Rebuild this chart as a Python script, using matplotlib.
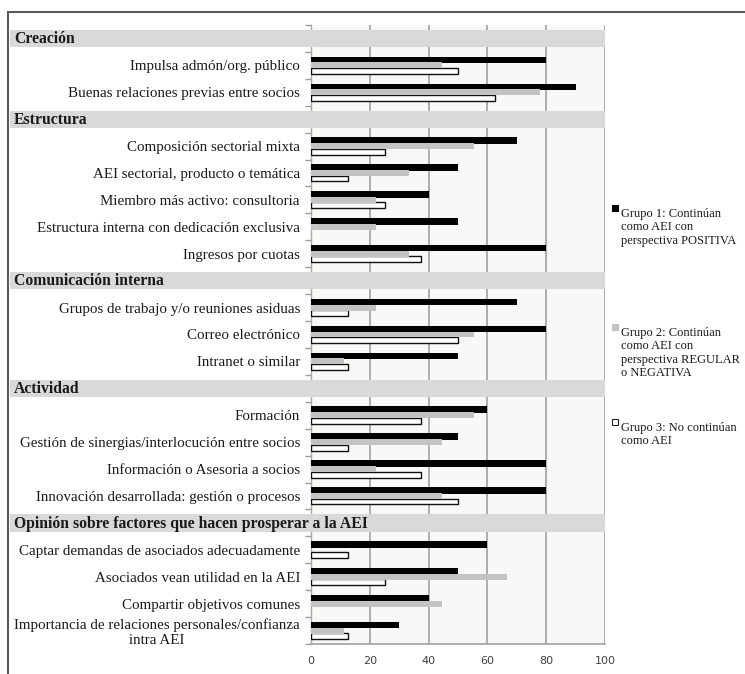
import matplotlib
matplotlib.use("Agg")
import matplotlib.pyplot as plt
from matplotlib.patches import Rectangle
from matplotlib.lines import Line2D
import matplotlib.transforms as mtransforms

# ---------------- data ----------------
sections = ["Creación", "Estructura", "Comunicación interna", "Actividad",
            "Opinión sobre factores que hacen prosperar a la AEI"]
section_items = [
    ["Impulsa admón/org. público", "Buenas relaciones previas entre socios"],
    ["Composición sectorial mixta", "AEI sectorial, producto o temática",
     "Miembro más activo: consultoria", "Estructura interna con dedicación exclusiva",
     "Ingresos por cuotas"],
    ["Grupos de trabajo y/o reuniones asiduas", "Correo electrónico", "Intranet o similar"],
    ["Formación", "Gestión de sinergias/interlocución entre socios",
     "Información o Asesoria a socios", "Innovación desarrollada: gestión o procesos"],
    ["Captar demandas de asociados adecuadamente", "Asociados vean utilidad en la AEI",
     "Compartir objetivos comunes", "Importancia de relaciones personales/confianza\nintra AEI"],
]
grupo1 = [80, 90, 70, 50, 40, 50, 80, 70, 80, 50, 60, 50, 80, 80, 60, 50, 40, 30]
grupo2 = [44.4, 77.8, 55.6, 33.3, 22.2, 22.2, 33.3, 22.2, 55.6, 11.1,
          55.6, 44.4, 22.2, 44.4, 0, 66.7, 44.4, 11.1]
grupo3 = [50, 62.5, 25, 12.5, 25, 0, 37.5, 12.5, 50, 12.5,
          37.5, 12.5, 37.5, 50, 12.5, 25, 0, 12.5]
legend_labels = ["Grupo 1: Continúan\ncomo AEI con\nperspectiva POSITIVA",
                 "Grupo 2: Continúan\ncomo AEI con\nperspectiva REGULAR\no NEGATIVA",
                 "Grupo 3: No continúan\ncomo AEI"]
xticks = [0, 20, 40, 60, 80, 100]

# ---------------- layout ----------------
W, H = 745, 674
fig = plt.figure(figsize=(W / 100, H / 100), dpi=100)
ax_left, ax_right, ax_top, ax_bottom = 311, 605, 25, 644
ax = fig.add_axes([ax_left / W, 1 - ax_bottom / H, (ax_right - ax_left) / W,
                   (ax_bottom - ax_top) / H])
ax.set_facecolor("#f8f8f7")

serif = ["Liberation Serif", "DejaVu Serif"]

# slot positions
header_pos = []
item_pos = []
item_labels = []
k = 0
for sec, items in zip(sections, section_items):
    header_pos.append(k)
    k += 1
    for it in items:
        item_pos.append(k)
        item_labels.append(it)
        k += 1
nslots = k

off = 0.205
bh = 0.22
y1 = [p - off for p in item_pos]
y2 = [p for p in item_pos]
y3 = [p + off for p in item_pos]
ax.barh(y1, grupo1, height=bh + 0.02, color="black", zorder=3, label=legend_labels[0])
w3 = ax.barh(y3, grupo3, height=bh, color="white", edgecolor="#111111", linewidth=1.0,
             zorder=3, label=legend_labels[2])
for rect, v in zip(w3.patches, grupo3):
    if v == 0:
        rect.set_linewidth(0)
ax.barh(y2, grupo2, height=bh, color="#c3c3c3", zorder=4, label=legend_labels[1])

ax.set_xlim(0, 100)
ax.set_ylim(nslots - 0.5, -0.5)
ax.set_xticks(xticks)
ax.set_xticklabels([str(t) for t in xticks], fontsize=8, color="#404040",
                   family="DejaVu Sans")
ax.tick_params(axis="x", length=0, pad=9)
ax.grid(axis="x", color="#a8a8a8", linewidth=1.3, zorder=1)
ax.set_axisbelow(True)

ax.set_yticks(item_pos)
ax.set_yticklabels(item_labels, fontsize=10.8, family=serif, color="#1a1a1a",
                   multialignment="center")
ax.tick_params(axis="y", which="major", length=0, pad=8)
ax.set_yticks([i - 0.5 for i in range(nslots + 1)], minor=True)
ax.tick_params(axis="y", which="minor", length=4, width=1, color="#9a9a9a",
               direction="out")

for s in ["top", "right"]:
    ax.spines[s].set_visible(False)
ax.spines["left"].set_color("#a8a8a8")
ax.spines["bottom"].set_color("#a8a8a8")
ax.spines["left"].set_linewidth(1.0)
ax.spines["bottom"].set_linewidth(1.3)

# section header bands
trans = mtransforms.blended_transform_factory(fig.transFigure, ax.transData)
for sec, p in zip(sections, header_pos):
    r = Rectangle((10 / W, p - 0.32), (ax_right - 10) / W, 0.64, transform=trans,
                  facecolor="#d9d9d9", edgecolor="none", clip_on=False, zorder=5)
    ax.add_patch(r)
    ax.text(14 / W, p + 0.03, sec, transform=trans, fontsize=11.3, fontweight="bold",
            family=serif, color="#1a1a1a", va="center", ha="left", zorder=6,
            clip_on=False)

# legend (manual)
leg_colors = [("black", "black"), ("#c3c3c3", "#c3c3c3"), ("white", "#222222")]
leg_y = [208, 327, 422]
for (fc, ec), lab, yy in zip(leg_colors, legend_labels, leg_y):
    fig.patches.append(Rectangle((612 / W, 1 - (yy + 3) / H), 6 / W, 6 / H,
                                 transform=fig.transFigure, facecolor=fc,
                                 edgecolor=ec, linewidth=0.8))
    fig.text(621 / W, 1 - yy / H, lab, fontsize=9, family=serif, color="#1a1a1a",
             va="top", ha="left", linespacing=1.15)

# outer frame lines
fig.add_artist(Line2D([8 / W, 8 / W], [0, 1 - 12 / H], transform=fig.transFigure,
                      color="#5a5a5a", linewidth=1.5))
fig.add_artist(Line2D([8 / W, 1], [1 - 12 / H, 1 - 12 / H], transform=fig.transFigure,
                      color="#5a5a5a", linewidth=1.5))

fig.savefig("out.png", dpi=100)
